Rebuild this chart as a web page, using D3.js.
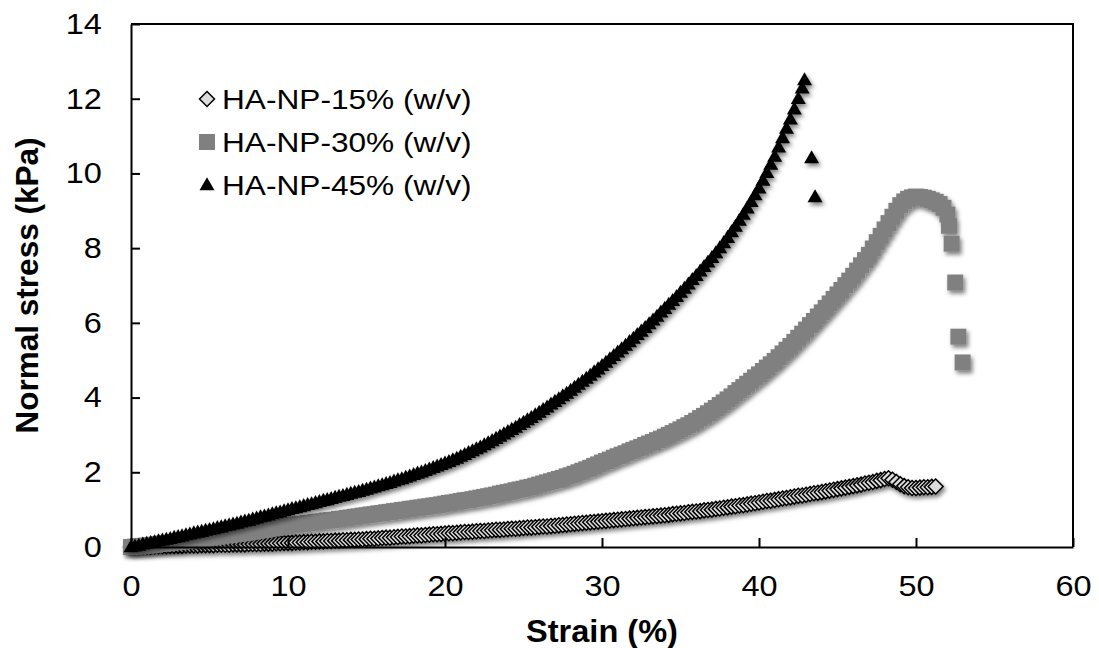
<!DOCTYPE html>
<html><head><meta charset="utf-8">
<script src="https://cdn.jsdelivr.net/npm/d3@7"></script>
<style>body{margin:0;background:#fff} text{font-family:"Liberation Sans",Arial,sans-serif;fill:#000}</style>
</head><body>
<svg id="c" width="1099" height="648"></svg>
<script>
const xTicks=[0,10,20,30,40,50,60];
const yTicks=[0,2,4,6,8,10,12,14];
const seriesNames=["HA-NP-15% (w/v)","HA-NP-30% (w/v)","HA-NP-45% (w/v)"];
const xTitle="Strain (%)";
const yTitle="Normal stress (kPa)";

// strain sampled every 0.25 %, plus the last isolated points
const strain15=d3.range(0,51.26,0.25);
const stress15=[
0.00,0.00,0.01,0.01, 0.01,0.01,0.02,0.02, 0.02,0.02,0.03,0.03, 0.03,0.03,0.04,0.04, 0.04,0.04,0.05,0.05,
0.05,0.05,0.06,0.06, 0.06,0.06,0.07,0.07, 0.07,0.07,0.08,0.08, 0.08,0.08,0.09,0.09, 0.09,0.10,0.10,0.11,
0.11,0.11,0.12,0.12, 0.13,0.13,0.14,0.14, 0.15,0.15,0.16,0.16, 0.17,0.17,0.18,0.18, 0.19,0.19,0.20,0.20,
0.21,0.22,0.22,0.23, 0.24,0.25,0.25,0.26, 0.27,0.28,0.28,0.29, 0.30,0.31,0.31,0.32, 0.33,0.34,0.34,0.35,
0.36,0.37,0.37,0.38, 0.39,0.40,0.40,0.41, 0.42,0.43,0.43,0.44, 0.45,0.46,0.46,0.47, 0.48,0.49,0.49,0.50,
0.51,0.52,0.52,0.53, 0.54,0.55,0.55,0.56, 0.57,0.58,0.59,0.60, 0.61,0.62,0.63,0.64, 0.65,0.66,0.67,0.68,
0.69,0.70,0.71,0.72, 0.73,0.74,0.75,0.76, 0.77,0.78,0.79,0.80, 0.81,0.82,0.83,0.84, 0.85,0.86,0.88,0.89,
0.90,0.91,0.93,0.94, 0.95,0.96,0.98,0.99, 1.00,1.02,1.03,1.05, 1.06,1.08,1.09,1.11, 1.12,1.14,1.16,1.17,
1.19,1.21,1.23,1.24, 1.26,1.28,1.30,1.31, 1.33,1.35,1.37,1.38, 1.40,1.42,1.44,1.45, 1.47,1.49,1.51,1.53,
1.55,1.57,1.59,1.61, 1.63,1.65,1.67,1.70, 1.72,1.74,1.77,1.79, 1.82,1.84,1.80,1.74, 1.68,1.63,1.60,1.58,
1.58,1.59,1.60,1.60, 1.61,1.62];

const strain30=d3.range(0,52.01,0.25).concat([52.1,52.27,52.5,52.7,52.97]);
const stress30=[
0.00,0.01,0.02,0.03, 0.04,0.05,0.06,0.08, 0.09,0.10,0.11,0.13, 0.14,0.15,0.16,0.18, 0.19,0.20,0.22,0.23,
0.25,0.26,0.28,0.29, 0.31,0.32,0.34,0.35, 0.37,0.38,0.40,0.41, 0.43,0.45,0.46,0.48, 0.50,0.52,0.53,0.55,
0.57,0.58,0.60,0.61, 0.62,0.64,0.65,0.67, 0.68,0.69,0.71,0.72, 0.73,0.75,0.76,0.78, 0.79,0.81,0.82,0.84,
0.85,0.87,0.88,0.90, 0.91,0.93,0.94,0.96, 0.97,0.99,1.00,1.02, 1.03,1.05,1.06,1.08, 1.09,1.11,1.12,1.14,
1.16,1.18,1.19,1.21, 1.23,1.25,1.26,1.28, 1.30,1.32,1.34,1.36, 1.38,1.40,1.43,1.45, 1.47,1.49,1.52,1.54,
1.56,1.59,1.61,1.64, 1.67,1.70,1.73,1.76, 1.79,1.82,1.85,1.89, 1.92,1.96,2.00,2.04, 2.08,2.12,2.17,2.21,
2.26,2.30,2.34,2.39, 2.43,2.47,2.51,2.56, 2.60,2.64,2.68,2.73, 2.77,2.81,2.86,2.90, 2.95,3.00,3.05,3.10,
3.15,3.21,3.26,3.32, 3.38,3.45,3.51,3.58, 3.65,3.72,3.80,3.87, 3.95,4.03,4.12,4.20, 4.28,4.37,4.45,4.54,
4.62,4.71,4.80,4.89, 4.98,5.08,5.18,5.28, 5.38,5.49,5.60,5.71, 5.82,5.94,6.05,6.17, 6.28,6.40,6.52,6.64,
6.76,6.88,7.01,7.13, 7.26,7.40,7.54,7.68, 7.82,7.99,8.16,8.33, 8.50,8.67,8.84,9.00, 9.15,9.25,9.32,9.36,
9.38,9.37,9.35,9.32, 9.28,9.24,9.18,9.08, 8.90,
8.60,8.12,7.08,5.63,4.94];

const strain45=d3.range(0,42.76,0.25).concat([42.9,43.35,43.57]);
const stress45=[
0.00,0.02,0.04,0.07, 0.09,0.11,0.13,0.16, 0.18,0.20,0.22,0.25, 0.27,0.29,0.32,0.34, 0.37,0.39,0.41,0.44,
0.46,0.48,0.51,0.53, 0.56,0.58,0.61,0.63, 0.66,0.69,0.71,0.74, 0.77,0.80,0.82,0.85, 0.88,0.91,0.93,0.96,
0.99,1.02,1.04,1.07, 1.10,1.13,1.15,1.18, 1.21,1.24,1.26,1.29, 1.32,1.35,1.37,1.40, 1.43,1.46,1.48,1.51,
1.54,1.57,1.60,1.63, 1.66,1.69,1.72,1.76, 1.79,1.82,1.86,1.89, 1.93,1.97,2.00,2.04, 2.08,2.12,2.16,2.20,
2.24,2.28,2.33,2.37, 2.42,2.47,2.52,2.57, 2.62,2.67,2.73,2.78, 2.84,2.90,2.96,3.02, 3.08,3.14,3.20,3.27,
3.33,3.40,3.46,3.53, 3.60,3.67,3.74,3.82, 3.89,3.96,4.04,4.11, 4.19,4.27,4.35,4.43, 4.51,4.59,4.68,4.76,
4.85,4.94,5.03,5.12, 5.21,5.30,5.39,5.49, 5.58,5.68,5.77,5.87, 5.97,6.07,6.17,6.28, 6.38,6.49,6.59,6.70,
6.81,6.92,7.03,7.15, 7.26,7.38,7.50,7.62, 7.74,7.87,8.00,8.14, 8.28,8.43,8.58,8.74, 8.90,9.07,9.24,9.42,
9.60,9.81,10.02,10.24, 10.45,10.70,10.95,11.20, 11.45,11.72,12.00,12.28,
12.50,10.41,9.37];

const svg=d3.select("#c");
const L=131,R=1073,T=24,B=547;
const x=d3.scaleLinear().domain([0,60]).range([L,R]);
const y=d3.scaleLinear().domain([0,14]).range([B,T]);

const defs=svg.append("defs");
const f=defs.append("filter").attr("id","sh").attr("x","-10%").attr("y","-10%").attr("width","120%").attr("height","120%");
f.append("feDropShadow").attr("dx",2).attr("dy",3).attr("stdDeviation",2.2).attr("flood-color","#000").attr("flood-opacity",0.5);

function shape(type,s){
  const h=s/2;
  if(type==="diamond") return `M0,${-h}L${h},0L0,${h}L${-h},0Z`;
  if(type==="square") return `M${-h},${-h}H${h}V${h}H${-h}Z`;
  const th=s*0.87;
  return `M0,${-th*0.6}L${h},${th*0.4}L${-h},${th*0.4}Z`;
}
const styles=[
  {type:"diamond",size:15,fill:"#dcdcdc",stroke:"#000",sw:1.5},
  {type:"square",size:16,fill:"#808080",stroke:"none",sw:0},
  {type:"triangle",size:15,fill:"#000",stroke:"none",sw:0}
];
const series=[
  {name:seriesNames[0],xs:strain15,ys:stress15,st:styles[0]},
  {name:seriesNames[1],xs:strain30,ys:stress30,st:styles[1]},
  {name:seriesNames[2],xs:strain45,ys:stress45,st:styles[2]}
];

series.forEach(s=>{
  const g=svg.append("g").attr("filter","url(#sh)");
  g.selectAll("path").data(s.xs.map((v,i)=>[v,s.ys[i]])).join("path")
   .attr("d",shape(s.st.type,s.st.size))
   .attr("transform",d=>`translate(${x(d[0])},${y(d[1])})`)
   .attr("fill",s.st.fill).attr("stroke",s.st.stroke).attr("stroke-width",s.st.sw);
});

// frame
svg.append("path").attr("d",`M${L},${T}H${R}V${B}`).attr("fill","none").attr("stroke","#000").attr("stroke-width",2);

const fs=29, sx=1.12;
const xa=svg.append("g").attr("transform",`translate(0,${B})`)
  .call(d3.axisBottom(x).tickValues(xTicks).tickSizeInner(-9).tickSizeOuter(0).tickPadding(28));
const ya=svg.append("g").attr("transform",`translate(${L},0)`)
  .call(d3.axisLeft(y).tickValues(yTicks).tickSizeInner(-9).tickSizeOuter(0).tickPadding(26));
[xa,ya].forEach(a=>{
  a.selectAll("path.domain").attr("stroke","#000").attr("stroke-width",2);
  a.selectAll(".tick line").attr("stroke","#000").attr("stroke-width",2);
  a.selectAll(".tick text").attr("font-size",fs).attr("font-family","Liberation Sans, Arial, sans-serif")
    .attr("fill","#000").attr("transform",`scale(${sx},1)`);
});

svg.append("text").attr("transform",`translate(${(L+R)/2},631) scale(1.05,1)`).attr("text-anchor","middle").attr("dominant-baseline","central")
  .attr("font-size",31).attr("font-weight","bold").text(xTitle);
svg.append("text").attr("transform",`translate(27,${(T+B)/2}) rotate(-90)`).attr("text-anchor","middle").attr("dominant-baseline","central")
  .attr("font-size",31.5).attr("font-weight","bold").text(yTitle);

const lg=svg.append("g");
const ly=[99,142,185];
series.forEach((s,i)=>{
  lg.append("path").attr("d",shape(s.st.type,s.st.size)).attr("transform",`translate(207,${ly[i]})`)
    .attr("fill",s.st.fill).attr("stroke",s.st.stroke).attr("stroke-width",s.st.type==="diamond"?1.5:0);
  lg.append("text").attr("transform",`translate(222,${ly[i]}) scale(1.11,1)`).attr("dominant-baseline","central")
    .attr("font-size",28.5).text(s.name);
});
</script>
</body></html>
